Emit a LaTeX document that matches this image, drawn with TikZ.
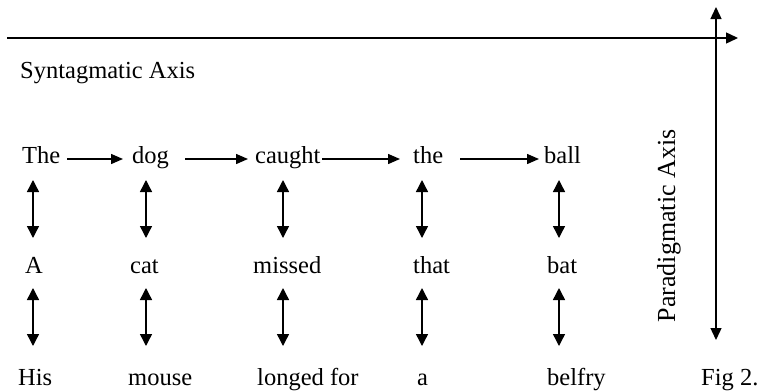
\documentclass[tikz,border=0pt]{standalone}
\usepackage{fontspec}
\setmainfont{Liberation Serif}
\usetikzlibrary{arrows.meta,calc}
\begin{document}
\begin{tikzpicture}[x=1pt,y=-1pt,
  word/.style={anchor=base west,inner sep=0pt,text height=15pt,text depth=6pt,font=\fontsize{24.5}{28}\selectfont},
  harr/.style={line width=1.4pt,-{Triangle[length=12pt,width=10pt]}},
  varr/.style={line width=1.4pt,{Triangle[length=12pt,width=12pt]}-{Triangle[length=12pt,width=12pt]}},
  axis/.style={line width=1.4pt,-{Triangle[length=12pt,width=11pt]}}]
\useasboundingbox (0,0) rectangle (758,391);
% axes
\coordinate (hs) at (7,38);
\coordinate (he) at (738,38);
\coordinate (vt) at (716,7);
\coordinate (vb) at (716,340);
\draw[axis] (hs) -- (he);
\draw[line width=1.4pt,{Triangle[length=12pt,width=11pt]}-{Triangle[length=12pt,width=11pt]}] (vb) -- (vt);
\node[word] (synt) at (20,78) {Syntagmatic Axis};
\node[inner sep=0pt,rotate=90,font=\fontsize{26}{30}\selectfont] (para) at (669,226) {Paradigmatic Axis};
% row 1
\node[word] (w11) at (22,163) {The};
\node[word] (w12) at (132,163) {dog};
\node[word] (w13) at (255,163) {caught};
\node[word] (w14) at (413,163) {the};
\node[word] (w15) at (544,163) {ball};
% row 2
\node[word] (w21) at (25,273) {A};
\node[word] (w22) at (130,273) {cat};
\node[word] (w23) at (253,273) {missed};
\node[word] (w24) at (413,273) {that};
\node[word] (w25) at (547,273) {bat};
% row 3
\node[word] (w31) at (18,385) {His};
\node[word] (w32) at (128,385) {mouse};
\node[word] (w33) at (257,385) {longed for};
\node[word] (w34) at (417,385) {a};
\node[word] (w35) at (547,385) {belfry};
\node[word] (fig) at (701,385) {Fig 2.};
% horizontal arrows
\draw[harr] ($(w11.base west)+(45,-4)$) -- ($(w12.base west)+(-9,-4)$);
\draw[harr] ($(w12.base west)+(53,-4)$) -- ($(w13.base west)+(-7,-4)$);
\draw[harr] ($(w13.base west)+(67,-4)$) -- ($(w14.base west)+(-13,-4)$);
\draw[harr] ($(w14.base west)+(47,-4)$) -- ($(w15.base west)+(-5,-4)$);
% vertical arrows
\coordinate (c1) at (33,0);
\coordinate (c2) at (146,0);
\coordinate (c3) at (283,0);
\coordinate (c4) at (422,0);
\coordinate (c5) at (559,0);
\foreach \i in {1,...,5}{
  \draw[varr] ($(c\i |- w11.base)+(0,17)$) -- ($(c\i |- w21.base)+(0,-35)$);
  \draw[varr] ($(c\i |- w21.base)+(0,15)$) -- ($(c\i |- w31.base)+(0,-39)$);
}
\end{tikzpicture}
\end{document}
